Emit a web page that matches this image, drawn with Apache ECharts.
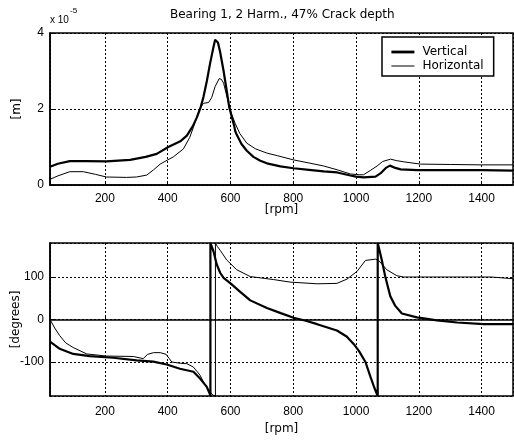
<!DOCTYPE html>
<html>
<head>
<meta charset="utf-8">
<script src="https://cdn.jsdelivr.net/npm/echarts@6/dist/echarts.min.js"></script>
<style>
  html, body { margin: 0; padding: 0; background: #fff; }
  #chart { width: 514px; height: 440px; }
</style>
</head>
<body>
<div id="chart"></div>
<script>
// Amplitude of the 2nd harmonic (units of 1e-5 m) against shaft speed
const ampVertRpm = [25, 50, 88, 140, 205, 280, 330, 365, 402, 440, 461, 480, 493, 505, 514, 525, 535, 545, 551, 555, 560, 567, 578, 588, 596, 604, 612, 615, 620, 635, 652, 673, 695, 716, 759, 801, 850, 897, 940, 982, 1000, 1024, 1062, 1080, 1095, 1108, 1125, 1142, 1195, 1300, 1400, 1500];
const ampVert    = [0.48, 0.56, 0.63, 0.63, 0.62, 0.66, 0.74, 0.82, 1.0, 1.15, 1.30, 1.55, 1.78, 2.05, 2.32, 2.75, 3.2, 3.6, 3.82, 3.87, 3.75, 3.5, 3.0, 2.48, 2.05, 1.80, 1.55, 1.42, 1.32, 1.08, 0.90, 0.74, 0.64, 0.57, 0.49, 0.44, 0.40, 0.36, 0.33, 0.25, 0.22, 0.20, 0.22, 0.32, 0.45, 0.51, 0.45, 0.41, 0.39, 0.39, 0.39, 0.38];

const ampHorzRpm = [25, 50, 88, 131, 170, 205, 269, 300, 333, 355, 376, 400, 418, 450, 470, 482, 493, 503, 514, 530, 540, 551, 564, 571, 578, 594, 604, 615, 630, 652, 680, 716, 750, 801, 850, 897, 940, 982, 1010, 1024, 1045, 1067, 1085, 1110, 1130, 1152, 1205, 1300, 1400, 1500];
const ampHorz    = [0.15, 0.24, 0.35, 0.35, 0.28, 0.21, 0.20, 0.21, 0.26, 0.40, 0.55, 0.66, 0.74, 0.95, 1.25, 1.52, 1.80, 2.02, 2.15, 2.17, 2.30, 2.59, 2.80, 2.78, 2.68, 2.15, 1.85, 1.62, 1.35, 1.10, 0.95, 0.84, 0.77, 0.66, 0.58, 0.50, 0.40, 0.29, 0.27, 0.27, 0.38, 0.50, 0.62, 0.68, 0.64, 0.61, 0.55, 0.54, 0.53, 0.53];

// Phase of the 2nd harmonic (degrees, wrapped to +/-180)
const phVertRpm = [25, 56, 99, 152, 226, 301, 354, 397, 439, 482, 503, 524, 533, 536, 536, 541, 546, 556, 567, 578, 600, 631, 663, 716, 760, 801, 840, 876, 939, 970, 993, 1010, 1030, 1046, 1058, 1069, 1069, 1074, 1082, 1093, 1109, 1125, 1146, 1194, 1258, 1322, 1407, 1500];
const phVert    = [-52, -69, -81, -86, -90, -96, -99, -106, -116, -123, -139, -158, -173, -180, 180, 170, 160, 130, 110, 98, 85, 65, 45, 27, 15, 4, -3, -11, -26, -40, -58, -75, -100, -135, -160, -180, 180, 165, 140, 101, 55, 32, 14, 5, -2, -7, -11, -11];

const phHorzRpm = [25, 40, 56, 75, 88, 99, 142, 205, 290, 322, 336, 355, 376, 395, 405, 413, 440, 461, 482, 503, 514, 530, 544, 552, 552, 553, 558, 567, 588, 620, 663, 737, 790, 876, 939, 971, 1003, 1030, 1062, 1072, 1098, 1130, 1152, 1300, 1430, 1500];
const phHorz    = [0, -20, -38, -55, -61, -66, -81, -86, -87, -92, -82, -78, -78, -82, -92, -100, -103, -104, -112, -131, -147, -166, -178, -180, 180, 178, 172, 163, 140, 117, 101, 94, 88, 84, 85, 95, 113, 139, 142, 139, 117, 103, 100, 100, 100, 96];

const seriesNames = ['Vertical', 'Horizontal'];
const titleText = 'Bearing 1, 2 Harm., 47% Crack depth';

const thickWidth = 2.2;
const thinWidth = 1;

const zip = (xs, ys) => xs.map((x, i) => [x, ys[i]]);
const plainNumber = (v) => String(v);

const tickFont = { fontFamily: 'Liberation Sans, Arial, sans-serif', fontSize: 12, color: '#000' };
const textFont = { fontFamily: 'DejaVu Sans, sans-serif', fontSize: 12, color: '#000' };
const gridLine = { show: true, lineStyle: { color: '#000', type: [2, 2], width: 1 } };

function rpmAxis(gridIndex, nameGap, labelMargin) {
  return {
    type: 'value', gridIndex: gridIndex,
    min: 25, max: 1500, minInterval: 200, maxInterval: 200,
    name: '[rpm]', nameLocation: 'middle', nameGap: nameGap, nameMoveOverlap: false,
    nameTextStyle: textFont,
    axisLine: { lineStyle: { color: '#000', width: 1.5 } },
    axisTick: { inside: true, length: 4, lineStyle: { color: '#000' } },
    axisLabel: Object.assign({ margin: labelMargin, showMinLabel: false, showMaxLabel: false, formatter: plainNumber }, tickFont),
    splitLine: gridLine
  };
}

function valueAxis(gridIndex, name, nameGap, range, step) {
  return {
    type: 'value', gridIndex: gridIndex,
    min: range[0], max: range[1], minInterval: step, maxInterval: step,
    name: name, nameLocation: 'middle', nameGap: nameGap, nameMoveOverlap: false,
    nameTextStyle: textFont,
    axisLine: { lineStyle: { color: '#000', width: 1.5 } },
    axisTick: { inside: true, length: 4, lineStyle: { color: '#000' } },
    axisLabel: Object.assign({ margin: 6, showMinLabel: range[0] % step === 0, showMaxLabel: range[1] % step === 0, formatter: plainNumber }, tickFont),
    splitLine: gridLine
  };
}

const chart = echarts.init(document.getElementById('chart'), null, { renderer: 'canvas' });
chart.setOption({
  animation: false,
  backgroundColor: '#fff',
  title: [
    { text: titleText, left: 170, top: 9, padding: 0, textStyle: Object.assign({ fontWeight: 'normal' }, textFont) },
    { text: 'x 10', left: 50, top: 15, padding: 0, textStyle: { fontFamily: 'Liberation Sans, Arial, sans-serif', fontSize: 10, fontWeight: 'normal', color: '#000' } },
    { text: '-5', left: 70, top: 7, padding: 0, textStyle: { fontFamily: 'Liberation Sans, Arial, sans-serif', fontSize: 8, fontWeight: 'normal', color: '#000' } }
  ],
  legend: {
    orient: 'vertical', left: 382, top: 37,
    padding: [9, 10, 4, 8], itemGap: 2, itemWidth: 23, itemHeight: 14,
    borderColor: '#000', borderWidth: 1.5, backgroundColor: '#fff',
    textStyle: Object.assign({ padding: [0, 0, 0, 3] }, textFont),
    itemStyle: { opacity: 0 },
    data: [
      { name: seriesNames[0], lineStyle: { color: '#000', width: thickWidth + 0.6 } },
      { name: seriesNames[1], lineStyle: { color: '#000', width: thinWidth } }
    ]
  },
  grid: [
    { left: 50, top: 33, width: 463, height: 152, show: true, borderColor: '#000', borderWidth: 1.5, containLabel: false, outerBoundsMode: 'none' },
    { left: 50, top: 243, width: 463, height: 153, show: true, borderColor: '#000', borderWidth: 1.5, containLabel: false, outerBoundsMode: 'none' }
  ],
  xAxis: [rpmAxis(0, 19, 8), rpmAxis(1, 27, 10)],
  yAxis: [
    valueAxis(0, '[m]', 27, [0, 4], 2),
    valueAxis(1, '[degrees]', 28, [-180, 180], 100)
  ],
  series: [
    { name: seriesNames[0], type: 'line', xAxisIndex: 0, yAxisIndex: 0, symbol: 'none', clip: true,
      lineStyle: { color: '#000', width: thickWidth }, itemStyle: { color: '#000' }, data: zip(ampVertRpm, ampVert) },
    { name: seriesNames[1], type: 'line', xAxisIndex: 0, yAxisIndex: 0, symbol: 'none', clip: true,
      lineStyle: { color: '#000', width: thinWidth }, itemStyle: { color: '#000' }, data: zip(ampHorzRpm, ampHorz) },
    { name: seriesNames[0], type: 'line', xAxisIndex: 1, yAxisIndex: 1, symbol: 'none', clip: true,
      lineStyle: { color: '#000', width: thickWidth }, itemStyle: { color: '#000' }, data: zip(phVertRpm, phVert) },
    { name: seriesNames[1], type: 'line', xAxisIndex: 1, yAxisIndex: 1, symbol: 'none', clip: true,
      lineStyle: { color: '#000', width: thinWidth }, itemStyle: { color: '#000' }, data: zip(phHorzRpm, phHorz) }
  ]
});
</script>
</body>
</html>
